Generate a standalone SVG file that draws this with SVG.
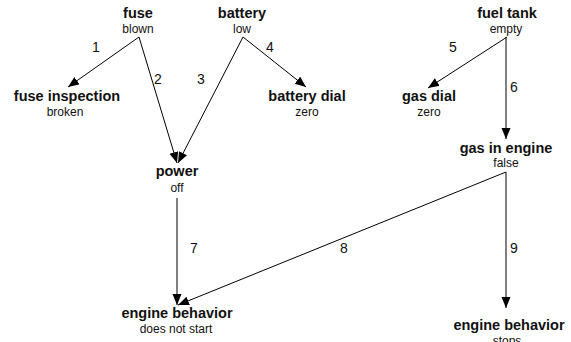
<svg xmlns="http://www.w3.org/2000/svg" width="571" height="342" viewBox="0 0 571 342">
  <style>
    .title { font-family: "Liberation Sans", Arial, sans-serif; font-weight: bold; font-size: 14.5px; fill: #111; text-anchor: middle; }
    .state { font-family: "Liberation Sans", Arial, sans-serif; font-size: 12px; fill: #111; text-anchor: middle; }
    .num { font-family: "Liberation Sans", Arial, sans-serif; font-size: 14px; fill: #111; }
    .edge { stroke: #000; stroke-width: 1; fill: none; marker-end: url(#arrow); }
  </style>
  <defs>
    <marker id="arrow" markerUnits="userSpaceOnUse" markerWidth="12" markerHeight="10" refX="11" refY="4.5" orient="auto">
      <path d="M0,0 L11,4.5 L0,9 Z" fill="#000"/>
    </marker>
  </defs>
  <rect width="571" height="342" fill="#fff"/>

  <g id="connectors">
    <line class="edge" x1="139" y1="37" x2="68" y2="87"/>
    <line class="edge" x1="139" y1="37" x2="177" y2="163"/>
    <line class="edge" x1="243" y1="37" x2="178" y2="163"/>
    <line class="edge" x1="243" y1="37" x2="306" y2="87"/>
    <line class="edge" x1="507" y1="37" x2="428" y2="88"/>
    <line class="edge" x1="506" y1="37" x2="506" y2="139"/>
    <line class="edge" x1="177" y1="198" x2="177" y2="305"/>
    <line class="edge" x1="506" y1="172" x2="178" y2="305"/>
    <line class="edge" x1="506" y1="172" x2="506" y2="308"/>
    <text class="num" x="92" y="52">1</text>
    <text class="num" x="154" y="84">2</text>
    <text class="num" x="197" y="84">3</text>
    <text class="num" x="266" y="52">4</text>
    <text class="num" x="449" y="52">5</text>
    <text class="num" x="510" y="92">6</text>
    <text class="num" x="190" y="253">7</text>
    <text class="num" x="340" y="253">8</text>
    <text class="num" x="510" y="253">9</text>
  </g>

  <g id="fuse">
    <text class="title" x="138" y="18">fuse</text>
    <text class="state" x="138" y="33">blown</text>
  </g>
  <g id="battery">
    <text class="title" x="242" y="18">battery</text>
    <text class="state" x="242" y="33">low</text>
  </g>
  <g id="fuel-tank">
    <text class="title" x="507" y="18">fuel tank</text>
    <text class="state" x="506" y="33">empty</text>
  </g>
  <g id="fuse-inspection">
    <text class="title" x="67" y="101">fuse inspection</text>
    <text class="state" x="65" y="116">broken</text>
  </g>
  <g id="battery-dial">
    <text class="title" x="307" y="101">battery dial</text>
    <text class="state" x="307" y="116">zero</text>
  </g>
  <g id="gas-dial">
    <text class="title" x="429" y="101">gas dial</text>
    <text class="state" x="429" y="116">zero</text>
  </g>
  <g id="gas-in-engine">
    <text class="title" x="506" y="153">gas in engine</text>
    <text class="state" x="506" y="167">false</text>
  </g>
  <g id="power">
    <text class="title" x="177" y="176">power</text>
    <text class="state" x="177" y="192">off</text>
  </g>
  <g id="engine-behavior-start">
    <text class="title" x="177" y="318">engine behavior</text>
    <text class="state" x="176" y="333">does not start</text>
  </g>
  <g id="engine-behavior-stops">
    <text class="title" x="509" y="330">engine behavior</text>
    <text class="state" x="507" y="345">stops</text>
  </g>
</svg>
